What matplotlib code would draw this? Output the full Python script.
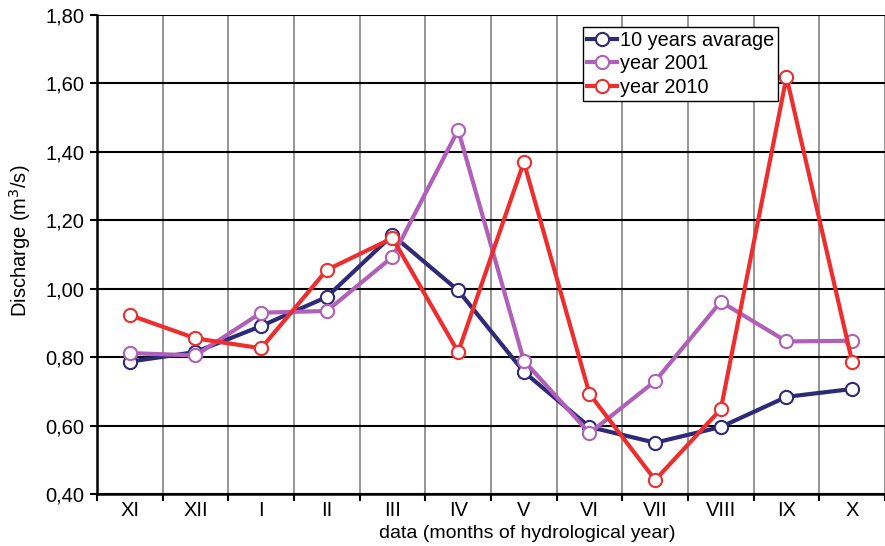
import numpy as np
import matplotlib.pyplot as plt
from matplotlib.ticker import FixedLocator, FuncFormatter

plt.rcParams['font.family'] = ['Liberation Sans', 'DejaVu Sans']

# months of the hydrological year
months = ['XI', 'XII', 'I', 'II', 'III', 'IV', 'V', 'VI', 'VII', 'VIII', 'IX', 'X']

# discharge (m3/s)
avg_10y = [0.787, 0.815, 0.891, 0.976, 1.157, 0.995, 0.757, 0.596, 0.550, 0.596, 0.684, 0.707]
year_2001 = [0.812, 0.805, 0.930, 0.935, 1.093, 1.464, 0.790, 0.578, 0.730, 0.962, 0.846, 0.848]
year_2010 = [0.923, 0.855, 0.826, 1.055, 1.148, 0.815, 1.370, 0.693, 0.441, 0.648, 1.619, 0.787]

fig = plt.figure(figsize=(8.85, 5.46), dpi=100)
ax = fig.add_axes([0.1096, 0.0952, 0.8904, 0.8773])

x = np.arange(len(months))
series = [
    (avg_10y, '#2E2A78', '10 years avarage'),
    (year_2001, '#B060B8', 'year 2001'),
    (year_2010, '#EE2E2E', 'year 2010'),
]
for vals, col, lab in series:
    ax.plot(x, vals, color=col, lw=3, marker='o', ms=9.5, mfc='white',
            mec=col, mew=1.5, label=lab, zorder=3)

ax.set_xlim(-0.5, len(months) - 0.5)
ax.set_ylim(0.40, 1.80)
ax.set_yticks(np.arange(0.40, 1.81, 0.20))
ax.yaxis.set_major_formatter(FuncFormatter(lambda v, p: f'{v:.2f}'.replace('.', ',')))

# ticks at category boundaries, labels at centers
ax.xaxis.set_major_locator(FixedLocator(np.arange(-0.5, len(months), 1.0)))
ax.xaxis.set_minor_locator(FixedLocator(x))
ax.set_xticklabels([''] * (len(months) + 1))
ax.set_xticklabels(months, minor=True)
ax.tick_params(axis='x', which='major', length=5, width=1.5, direction='out')
ax.tick_params(axis='x', which='minor', length=0, labelsize=14.5, pad=5)
ax.tick_params(axis='y', length=5, width=1.5, direction='out', labelsize=14.5, pad=4)

ax.grid(axis='y', color='black', lw=1.5, zorder=1)
ax.grid(axis='x', which='major', color='#8C8C8C', lw=1.3, zorder=1)

for s in ['top', 'right']:
    ax.spines[s].set_visible(False)
ax.spines['left'].set_linewidth(1.8)
ax.spines['bottom'].set_linewidth(1.8)

ax.set_xlabel('data (months of hydrological year)', fontsize=14, labelpad=0)
ax.xaxis.set_label_coords(0.546, -0.065)
ax.set_ylabel('Discharge (m$^3$/s)', fontsize=14.5, labelpad=8)
ax.yaxis.set_label_coords(-0.081, 0.528)

leg = ax.legend(loc='upper left', bbox_to_anchor=(0.617, 0.975), fontsize=14.3,
                frameon=True, fancybox=False, edgecolor='black', framealpha=1,
                borderpad=0.2, labelspacing=0.22, handlelength=1.5,
                handletextpad=0.15, borderaxespad=0)
leg.get_frame().set_linewidth(1.0)

plt.savefig('out.png', dpi=100)
